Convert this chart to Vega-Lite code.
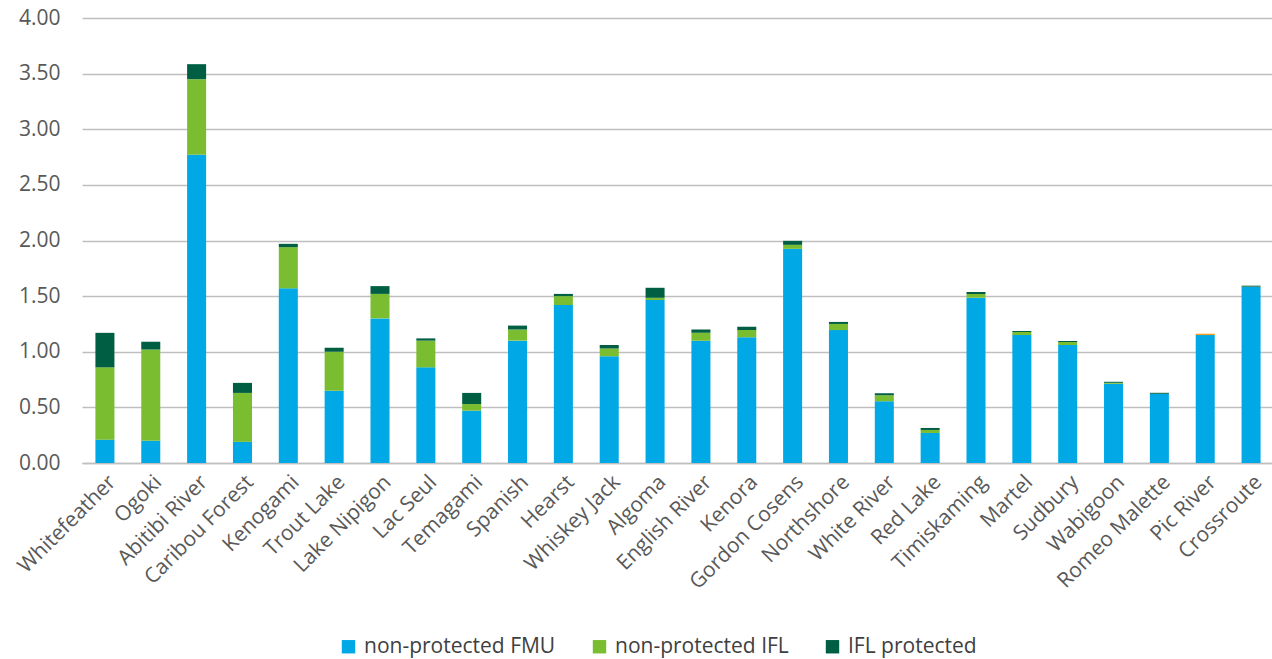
{
  "$schema": "https://vega.github.io/schema/vega-lite/v6.json",
  "autosize": "none",
  "width": 1192,
  "height": 445,
  "padding": {"left": 82, "top": 18, "right": 0, "bottom": 196},
  "background": "white",
  "config": {"view": {"stroke": null}, "font": "Open Sans"},
  "data": {"values": [
    {"name": "Whitefeather", "cat": "non-protected FMU", "k": 1, "v": 0.21},
    {"name": "Whitefeather", "cat": "non-protected IFL", "k": 2, "v": 0.65},
    {"name": "Whitefeather", "cat": "IFL protected", "k": 3, "v": 0.31},
    {"name": "Ogoki", "cat": "non-protected FMU", "k": 1, "v": 0.20},
    {"name": "Ogoki", "cat": "non-protected IFL", "k": 2, "v": 0.82},
    {"name": "Ogoki", "cat": "IFL protected", "k": 3, "v": 0.07},
    {"name": "Abitibi River", "cat": "non-protected FMU", "k": 1, "v": 2.77},
    {"name": "Abitibi River", "cat": "non-protected IFL", "k": 2, "v": 0.68},
    {"name": "Abitibi River", "cat": "IFL protected", "k": 3, "v": 0.135},
    {"name": "Caribou Forest", "cat": "non-protected FMU", "k": 1, "v": 0.19},
    {"name": "Caribou Forest", "cat": "non-protected IFL", "k": 2, "v": 0.44},
    {"name": "Caribou Forest", "cat": "IFL protected", "k": 3, "v": 0.09},
    {"name": "Kenogami", "cat": "non-protected FMU", "k": 1, "v": 1.57},
    {"name": "Kenogami", "cat": "non-protected IFL", "k": 2, "v": 0.37},
    {"name": "Kenogami", "cat": "IFL protected", "k": 3, "v": 0.03},
    {"name": "Trout Lake", "cat": "non-protected FMU", "k": 1, "v": 0.65},
    {"name": "Trout Lake", "cat": "non-protected IFL", "k": 2, "v": 0.35},
    {"name": "Trout Lake", "cat": "IFL protected", "k": 3, "v": 0.035},
    {"name": "Lake Nipigon", "cat": "non-protected FMU", "k": 1, "v": 1.30},
    {"name": "Lake Nipigon", "cat": "non-protected IFL", "k": 2, "v": 0.22},
    {"name": "Lake Nipigon", "cat": "IFL protected", "k": 3, "v": 0.07},
    {"name": "Lac Seul", "cat": "non-protected FMU", "k": 1, "v": 0.86},
    {"name": "Lac Seul", "cat": "non-protected IFL", "k": 2, "v": 0.24},
    {"name": "Lac Seul", "cat": "IFL protected", "k": 3, "v": 0.02},
    {"name": "Temagami", "cat": "non-protected FMU", "k": 1, "v": 0.47},
    {"name": "Temagami", "cat": "non-protected IFL", "k": 2, "v": 0.06},
    {"name": "Temagami", "cat": "IFL protected", "k": 3, "v": 0.10},
    {"name": "Spanish", "cat": "non-protected FMU", "k": 1, "v": 1.10},
    {"name": "Spanish", "cat": "non-protected IFL", "k": 2, "v": 0.10},
    {"name": "Spanish", "cat": "IFL protected", "k": 3, "v": 0.035},
    {"name": "Hearst", "cat": "non-protected FMU", "k": 1, "v": 1.42},
    {"name": "Hearst", "cat": "non-protected IFL", "k": 2, "v": 0.08},
    {"name": "Hearst", "cat": "IFL protected", "k": 3, "v": 0.02},
    {"name": "Whiskey Jack", "cat": "non-protected FMU", "k": 1, "v": 0.96},
    {"name": "Whiskey Jack", "cat": "non-protected IFL", "k": 2, "v": 0.07},
    {"name": "Whiskey Jack", "cat": "IFL protected", "k": 3, "v": 0.03},
    {"name": "Algoma", "cat": "non-protected FMU", "k": 1, "v": 1.465},
    {"name": "Algoma", "cat": "non-protected IFL", "k": 2, "v": 0.02},
    {"name": "Algoma", "cat": "IFL protected", "k": 3, "v": 0.09},
    {"name": "English River", "cat": "non-protected FMU", "k": 1, "v": 1.10},
    {"name": "English River", "cat": "non-protected IFL", "k": 2, "v": 0.07},
    {"name": "English River", "cat": "IFL protected", "k": 3, "v": 0.03},
    {"name": "Kenora", "cat": "non-protected FMU", "k": 1, "v": 1.13},
    {"name": "Kenora", "cat": "non-protected IFL", "k": 2, "v": 0.065},
    {"name": "Kenora", "cat": "IFL protected", "k": 3, "v": 0.03},
    {"name": "Gordon Cosens", "cat": "non-protected FMU", "k": 1, "v": 1.925},
    {"name": "Gordon Cosens", "cat": "non-protected IFL", "k": 2, "v": 0.036},
    {"name": "Gordon Cosens", "cat": "IFL protected", "k": 3, "v": 0.036},
    {"name": "Northshore", "cat": "non-protected FMU", "k": 1, "v": 1.195},
    {"name": "Northshore", "cat": "non-protected IFL", "k": 2, "v": 0.055},
    {"name": "Northshore", "cat": "IFL protected", "k": 3, "v": 0.018},
    {"name": "White River", "cat": "non-protected FMU", "k": 1, "v": 0.556},
    {"name": "White River", "cat": "non-protected IFL", "k": 2, "v": 0.054},
    {"name": "White River", "cat": "IFL protected", "k": 3, "v": 0.018},
    {"name": "Red Lake", "cat": "non-protected FMU", "k": 1, "v": 0.27},
    {"name": "Red Lake", "cat": "non-protected IFL", "k": 2, "v": 0.027},
    {"name": "Red Lake", "cat": "IFL protected", "k": 3, "v": 0.018},
    {"name": "Timiskaming", "cat": "non-protected FMU", "k": 1, "v": 1.486},
    {"name": "Timiskaming", "cat": "non-protected IFL", "k": 2, "v": 0.033},
    {"name": "Timiskaming", "cat": "IFL protected", "k": 3, "v": 0.018},
    {"name": "Martel", "cat": "non-protected FMU", "k": 1, "v": 1.15},
    {"name": "Martel", "cat": "non-protected IFL", "k": 2, "v": 0.027},
    {"name": "Martel", "cat": "IFL protected", "k": 3, "v": 0.009},
    {"name": "Sudbury", "cat": "non-protected FMU", "k": 1, "v": 1.06},
    {"name": "Sudbury", "cat": "non-protected IFL", "k": 2, "v": 0.027},
    {"name": "Sudbury", "cat": "IFL protected", "k": 3, "v": 0.009},
    {"name": "Wabigoon", "cat": "non-protected FMU", "k": 1, "v": 0.712},
    {"name": "Wabigoon", "cat": "non-protected IFL", "k": 2, "v": 0.009},
    {"name": "Wabigoon", "cat": "IFL protected", "k": 3, "v": 0.009},
    {"name": "Romeo Malette", "cat": "non-protected FMU", "k": 1, "v": 0.62},
    {"name": "Romeo Malette", "cat": "non-protected IFL", "k": 2, "v": 0.002},
    {"name": "Romeo Malette", "cat": "IFL protected", "k": 3, "v": 0.009},
    {"name": "Pic River", "cat": "non-protected FMU", "k": 1, "v": 1.15},
    {"name": "Pic River", "cat": "other", "k": 4, "v": 0.012},
    {"name": "Crossroute", "cat": "non-protected FMU", "k": 1, "v": 1.583},
    {"name": "Crossroute", "cat": "non-protected IFL", "k": 2, "v": 0.002},
    {"name": "Crossroute", "cat": "IFL protected", "k": 3, "v": 0.009}
  ]},
  "mark": {"type": "bar"},
  "encoding": {
    "x": {
      "field": "name", "type": "nominal", "sort": null,
      "scale": {"paddingInner": 0.585, "paddingOuter": 0.2925},
      "axis": {
        "title": null, "labelAngle": -45, "labelFontSize": 21, "labelColor": "#595959",
        "labelPadding": 8, "ticks": false, "domain": true, "domainColor": "#BFBFBF", "domainWidth": 1.5,
        "labelFont": "Open Sans", "labelLimit": 300
      }
    },
    "y": {
      "field": "v", "type": "quantitative", "stack": "zero",
      "scale": {"domain": [0, 4], "nice": false},
      "axis": {
        "title": null, "values": [0, 0.5, 1, 1.5, 2, 2.5, 3, 3.5, 4], "format": ".2f",
        "labelFontSize": 21, "labelColor": "#595959", "labelPadding": 22, "ticks": false,
        "domain": false, "gridColor": "#BFBFBF", "gridWidth": 1.5, "labelFont": "Open Sans"
      }
    },
    "color": {
      "field": "cat", "type": "nominal",
      "scale": {
        "domain": ["non-protected FMU", "non-protected IFL", "IFL protected", "other"],
        "range": ["#00A9E6", "#7BBD31", "#005E43", "#F39C1E"]
      },
      "legend": {
        "title": null, "values": ["non-protected FMU", "non-protected IFL", "IFL protected"],
        "orient": "none", "direction": "horizontal", "legendX": 256, "legendY": 618,
        "symbolType": "square", "symbolSize": 180, "symbolStrokeWidth": 0,
        "labelFontSize": 21, "labelColor": "#404040", "labelFont": "Open Sans", "labelLimit": 400,
        "columnPadding": 33, "labelOffset": 5
      }
    },
    "order": {"field": "k", "type": "quantitative"}
  }
}
